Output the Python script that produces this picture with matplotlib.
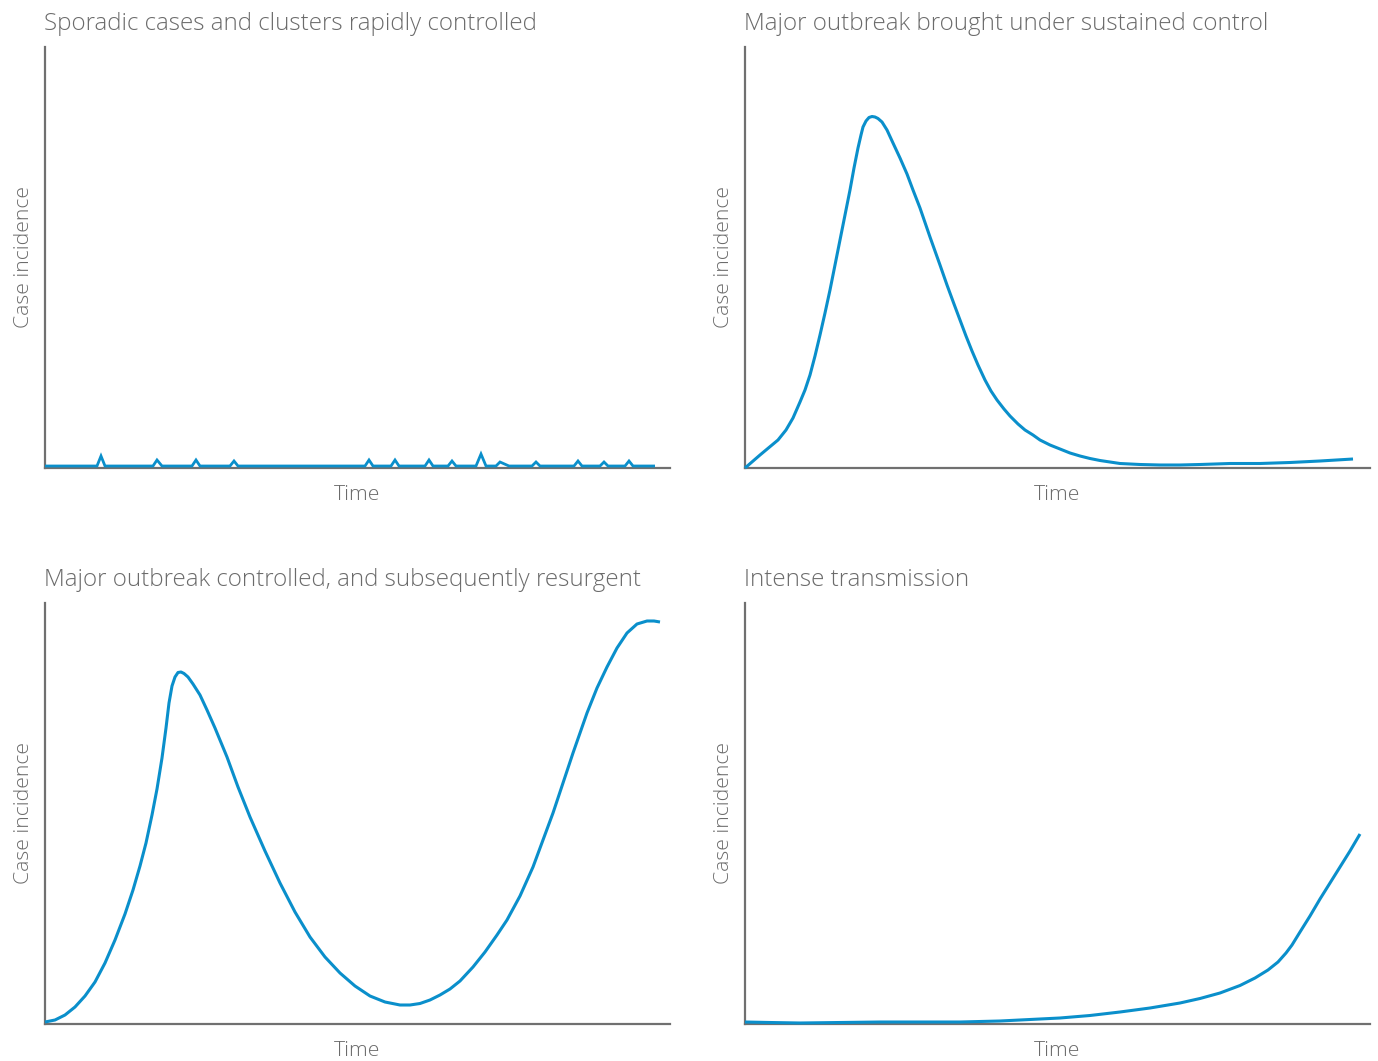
import matplotlib
matplotlib.use("Agg")
import matplotlib.pyplot as plt
import numpy as np

# ---- data (pixel readings from the reference, converted to 0-100 axis units below) ----
titles = [
    "Sporadic cases and clusters rapidly controlled",
    "Major outbreak brought under sustained control",
    "Major outbreak controlled, and subsequently resurgent",
    "Intense transmission",
]
xlabel = "Time"
ylabel = "Case incidence"

# Panel 1: sporadic spikes
p1_px_x = [45, 97, 101, 105, 153, 157, 162, 192, 196, 200, 230, 234, 238,
           365, 369, 373, 391, 395, 399, 425, 429, 433, 448, 452, 456,
           476, 481, 486, 496, 500, 509, 532, 536, 540, 574, 578, 582,
           600, 604, 608, 625, 629, 633, 655]
p1_px_y = [466, 466, 456, 466, 466, 460, 466, 466, 460, 466, 466, 461, 466,
           466, 460, 466, 466, 460, 466, 466, 460, 466, 466, 461, 466,
           466, 454, 466, 466, 462, 466, 466, 462, 466, 466, 461, 466,
           466, 462, 466, 466, 461, 466, 466]

# Panel 2: single outbreak
p2_px_x = [745, 760, 778, 786, 793, 800, 805, 810, 815, 820, 825, 830, 835, 840, 845, 850,
           854, 858, 861, 863, 866, 869, 872, 875, 878, 882, 887, 893, 900, 907, 913, 920,
           930, 940, 947, 954, 960, 966, 972, 978, 985, 991, 997, 1004, 1010, 1018, 1025,
           1033, 1040, 1050, 1060, 1070, 1080, 1090, 1100, 1110, 1120, 1140, 1160, 1180,
           1200, 1230, 1260, 1290, 1320, 1353]
p2_px_y = [468, 455, 440, 430, 418, 402, 390, 375, 356, 335, 313, 290, 265, 240, 215, 190,
           168, 148, 135, 127, 121, 117.5, 116.5, 117, 118.5, 122, 130, 143, 158, 174, 190, 208,
           237, 265, 285, 304, 320, 336, 351, 365, 380, 391, 400, 409, 416, 424, 430,
           435, 440, 445, 449, 453, 456, 458.5, 460.5, 462, 463.5, 464.5, 465, 465,
           464.5, 463.5, 463.5, 462.5, 461, 459]

# Panel 3: outbreak, trough, resurgence
p3_px_x = [45, 55, 65, 75, 85, 95, 105, 115, 125, 133, 140, 146, 152, 157, 162, 166,
           169, 172, 175, 178, 181, 184, 188, 193, 200, 207, 215, 227, 238, 250, 265, 280,
           295, 310, 325, 340, 355, 370, 385, 400, 410, 420, 430, 440, 450, 460, 473, 485,
           497, 507, 520, 533, 543, 553, 563, 573, 580, 587, 597, 607, 617, 627, 637, 647,
           654, 660]
p3_px_y = [1022, 1020, 1015, 1007, 996, 982, 963, 940, 914, 890, 866, 843, 815, 789, 758, 728,
           703, 686, 677, 672.5, 672, 673.5, 677, 684, 695, 710, 728, 757, 787, 817, 851, 883,
           912, 937, 957, 973, 986, 996, 1002, 1005, 1005, 1003.5, 1000, 995, 989, 981, 967, 952,
           935, 920, 896, 867, 840, 813, 783, 753, 733, 713, 688, 667, 648, 633, 624, 621,
           621, 622]

# Panel 4: intense transmission
p4_px_x = [745, 770, 800, 840, 880, 920, 960, 1000, 1030, 1060, 1090, 1120, 1150, 1180,
           1200, 1220, 1240, 1255, 1268, 1278, 1286, 1292, 1300, 1310, 1320, 1330, 1340,
           1350, 1360]
p4_px_y = [1022, 1022.5, 1023, 1022.5, 1022, 1022, 1022, 1021, 1019.5, 1018, 1015.5, 1012, 1008, 1003,
           998.5, 993, 985.5, 978, 970, 962, 953, 945, 932, 916, 899, 883, 867,
           851, 834]

BLUE = "#0a8fcb"
GRAY = "#707070"
TXT = "#6b6b6b"

W, H = 1378, 1061
fig = plt.figure(figsize=(W / 100, H / 100), dpi=100)
plt.rcParams["font.family"] = ["Open Sans", "DejaVu Sans"]

panels = [
    dict(left=45, top=47, bottom=468, xs=p1_px_x, ys=p1_px_y),
    dict(left=745, top=47, bottom=468, xs=p2_px_x, ys=p2_px_y),
    dict(left=45, top=603, bottom=1024, xs=p3_px_x, ys=p3_px_y),
    dict(left=745, top=603, bottom=1024, xs=p4_px_x, ys=p4_px_y),
]
AXW = 625

for i, (p, title) in enumerate(zip(panels, titles)):
    h = p["bottom"] - p["top"]
    ax = fig.add_axes([p["left"] / W, 1 - p["bottom"] / H, AXW / W, h / H])
    x = (np.array(p["xs"], dtype=float) - p["left"]) / AXW * 100
    y = (p["bottom"] - np.array(p["ys"], dtype=float)) / h * 100
    ax.plot(x, y, color=BLUE, lw=2.2 if i else 2.0,
            solid_joinstyle="miter" if i == 0 else "round",
            solid_capstyle="butt", clip_on=False, zorder=3)
    ax.set_xlim(0, 100)
    ax.set_ylim(0, 100)
    ax.set_xticks([])
    ax.set_yticks([])
    for s in ["top", "right"]:
        ax.spines[s].set_visible(False)
    for s in ["left", "bottom"]:
        ax.spines[s].set_color(GRAY)
        ax.spines[s].set_linewidth(1.6)
    ax.set_xlabel(xlabel, color=TXT, fontsize=15.2, fontweight="light", labelpad=12)
    ax.set_ylabel(ylabel, color=TXT, fontsize=15.2, fontweight="light", labelpad=8)
    ax.set_title(title, color=TXT, fontsize=17.4, fontweight="light", loc="left", pad=12, x=-0.002)

fig.savefig("out.png", dpi=100)
